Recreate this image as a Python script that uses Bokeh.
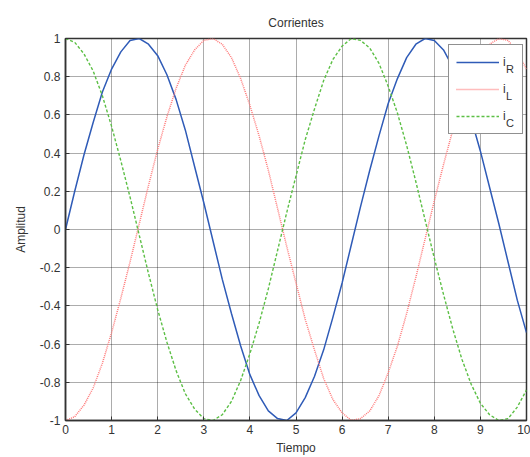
from bokeh.plotting import figure
from bokeh.models import Legend, LegendItem, FixedTicker, Range1d, ColumnDataSource
from bokeh.embed import file_html
from bokeh.resources import INLINE

tiempo = [round(0.2 * k, 1) for k in range(51)]
i_R = [0.00, 0.20, 0.39, 0.56, 0.72, 0.84, 0.93, 0.99, 1.00, 0.97,
       0.91, 0.81, 0.68, 0.52, 0.33, 0.14, -0.06, -0.26, -0.44, -0.61,
       -0.76, -0.87, -0.95, -0.99, -1.00, -0.96, -0.88, -0.77, -0.63, -0.46,
       -0.28, -0.08, 0.12, 0.31, 0.49, 0.66, 0.79, 0.90, 0.97, 1.00,
       0.99, 0.94, 0.85, 0.73, 0.58, 0.41, 0.22, 0.03, -0.17, -0.37,
       -0.54]
i_C = [1.00, 0.98, 0.92, 0.83, 0.70, 0.54, 0.36, 0.17, -0.03, -0.23,
       -0.42, -0.59, -0.74, -0.86, -0.94, -0.99, -1.00, -0.97, -0.90, -0.79,
       -0.65, -0.49, -0.31, -0.11, 0.09, 0.28, 0.47, 0.63, 0.78, 0.89,
       0.96, 1.00, 0.99, 0.95, 0.87, 0.75, 0.61, 0.44, 0.25, 0.05,
       -0.15, -0.34, -0.52, -0.68, -0.81, -0.91, -0.97, -1.00, -0.99, -0.93,
       -0.84]
i_L = [-1.00, -0.98, -0.92, -0.83, -0.70, -0.54, -0.36, -0.17, 0.03, 0.23,
       0.42, 0.59, 0.74, 0.86, 0.94, 0.99, 1.00, 0.97, 0.90, 0.79,
       0.65, 0.49, 0.31, 0.11, -0.09, -0.28, -0.47, -0.63, -0.78, -0.89,
       -0.96, -1.00, -0.99, -0.95, -0.87, -0.75, -0.61, -0.44, -0.25, -0.05,
       0.15, 0.34, 0.52, 0.68, 0.81, 0.91, 0.97, 1.00, 0.99, 0.93,
       0.84]

x_ticks = [0, 1, 2, 3, 4, 5, 6, 7, 8, 9, 10]
y_ticks = [-1, -0.8, -0.6, -0.4, -0.2, 0, 0.2, 0.4, 0.6, 0.8, 1]
y_tick_labels = ["-1", "-0.8", "-0.6", "-0.4", "-0.2", "0", "0.2", "0.4", "0.6", "0.8", "1"]
legend_main = ["i", "i", "i"]
legend_sub = ["R", "L", "C"]

FONT = "Liberation Sans"
TXT = "#333333"

src = ColumnDataSource(dict(t=tiempo, iR=i_R, iL=i_L, iC=i_C))

p = figure(width=530, height=457, output_backend="svg", toolbar_location=None,
           x_range=Range1d(0, 10), y_range=Range1d(-1, 1),
           min_border_left=65, min_border_right=4, min_border_top=38, min_border_bottom=36,
           title="Corrientes", x_axis_label="Tiempo", y_axis_label="Amplitud")
p.background_fill_color = "white"
p.border_fill_color = "white"
p.outline_line_color = "#333333"
p.outline_line_width = 1.5

p.title.align = "center"
p.title.text_font = FONT
p.title.text_font_size = "12px"
p.title.text_font_style = "normal"
p.title.text_color = TXT
p.title.standoff = 17

p.xaxis.ticker = FixedTicker(ticks=x_ticks)
p.yaxis.ticker = FixedTicker(ticks=y_ticks)
p.yaxis.major_label_overrides = {v: s for v, s in zip(y_ticks, y_tick_labels)}

for ax in (p.xaxis[0], p.yaxis[0]):
    ax.major_tick_in = 4
    ax.major_tick_out = 0
    ax.minor_tick_in = 0
    ax.minor_tick_out = 0
    ax.axis_line_color = "#333333"
    ax.axis_line_width = 1.5
    ax.major_tick_line_color = "#333333"
    ax.major_label_text_font = FONT
    ax.major_label_text_font_size = "12px"
    ax.major_label_text_color = TXT
    ax.axis_label_text_font = FONT
    ax.axis_label_text_font_size = "12px"
    ax.axis_label_text_font_style = "normal"
    ax.axis_label_text_color = TXT
p.xaxis.major_label_standoff = 4
p.xaxis.axis_label_standoff = 4
p.yaxis.major_label_standoff = 5
p.yaxis.axis_label_standoff = 9

p.grid.grid_line_color = "black"
p.grid.grid_line_alpha = 0.65
p.grid.grid_line_dash = "1 1"
p.grid.grid_line_width = 1
p.xgrid.ticker = FixedTicker(ticks=x_ticks)
p.ygrid.ticker = FixedTicker(ticks=y_ticks)

rR = p.line("t", "iR", source=src, line_color="#2f5bb7", line_width=1.5)
rL = p.line("t", "iL", source=src, line_color="#ff7a7a", line_width=1.5, line_dash="1 1")
rC = p.line("t", "iC", source=src, line_color="#5cbf45", line_width=1.4, line_dash="3 2")

common = dict(margin=0, padding=7, spacing=7, glyph_height=20, label_height=20,
              label_text_font=FONT, label_text_color=TXT,
              label_text_baseline="alphabetic")

legend = Legend(items=[LegendItem(label=legend_main[k], renderers=[r])
                       for k, r in enumerate((rR, rL, rC))],
                location=(383, 286), glyph_width=43, label_width=12, label_standoff=4,
                label_text_font_size="12px",
                border_line_color="#222222", border_line_width=1.5,
                background_fill_color="white", background_fill_alpha=1.0, **common)
p.add_layout(legend)

# subscripts: a second, transparent legend shifted down/right
ghosts = [p.line([], [], line_alpha=0) for _ in range(3)]
legend2 = Legend(items=[LegendItem(label=legend_sub[k], renderers=[g])
                        for k, g in enumerate(ghosts)],
                 location=(383, 280), glyph_width=50, label_width=10, label_standoff=1,
                 label_text_font_size="11px",
                 border_line_alpha=0, background_fill_alpha=0, **common)
p.add_layout(legend2)

open("out.html", "w").write(file_html(p, INLINE))
